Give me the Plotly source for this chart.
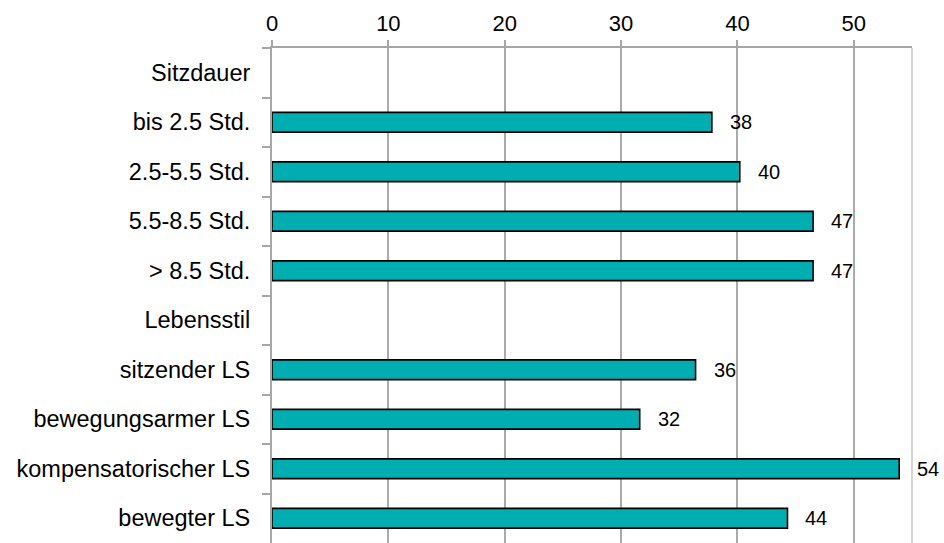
import plotly.graph_objects as go

categories = ["Sitzdauer", "bis 2.5 Std.", "2.5-5.5 Std.", "5.5-8.5 Std.", "> 8.5 Std.",
              "Lebensstil", "sitzender LS", "bewegungsarmer LS", "kompensatorischer LS", "bewegter LS"]
values = [None, 37.8, 40.2, 46.5, 46.5, None, 36.4, 31.6, 53.9, 44.3]
labels = ["", "38", "40", "47", "47", "", "36", "32", "54", "44"]
x_ticks = [0, 10, 20, 30, 40, 50]

FONT = "Liberation Sans, Arial, sans-serif"

fig = go.Figure()
fig.add_trace(go.Bar(
    y=categories, x=values, orientation="h",
    marker=dict(color="#00ADB1", line=dict(color="#000000", width=1.6)),
    width=0.4, hoverinfo="x+y",
))

for c, v, t in zip(categories, values, labels):
    if v is None:
        continue
    fig.add_annotation(x=v, y=c, text=t, showarrow=False, xanchor="left", yanchor="middle",
                       xshift=16, font=dict(family=FONT, size=20, color="#000000"))

fig.add_shape(type="line", xref="paper", yref="paper", x0=1, x1=1, y0=0, y1=1,
              line=dict(color="#D4D4D4", width=2))

fig.update_layout(
    width=944, height=543,
    margin=dict(l=272, r=32, t=48, b=0),
    plot_bgcolor="white", paper_bgcolor="white",
    showlegend=False,
    font=dict(family=FONT, size=23.5, color="#000000"),
    xaxis=dict(
        side="top", range=[0, 55], tickvals=x_ticks, ticktext=[str(v) for v in x_ticks],
        showgrid=True, gridcolor="#ABABAB", gridwidth=2,
        showline=True, linecolor="#A6A6A6", linewidth=2,
        ticks="outside", ticklen=6, tickcolor="#A6A6A6", tickwidth=2,
        zeroline=False, tickfont=dict(size=22),
    ),
    yaxis=dict(
        type="category", categoryorder="array", categoryarray=categories,
        autorange="reversed",
        showgrid=False, showline=True, linecolor="#A6A6A6", linewidth=2,
        ticks="outside", ticklen=8, tickcolor="#A6A6A6", tickwidth=2,
        tickson="boundaries", ticklabelstandoff=15, tickfont=dict(size=23.5),
    ),
)

fig.write_html("out.html", config={"displayModeBar": False},
               post_script="document.body.style.margin='0';document.body.style.overflow='hidden';")
